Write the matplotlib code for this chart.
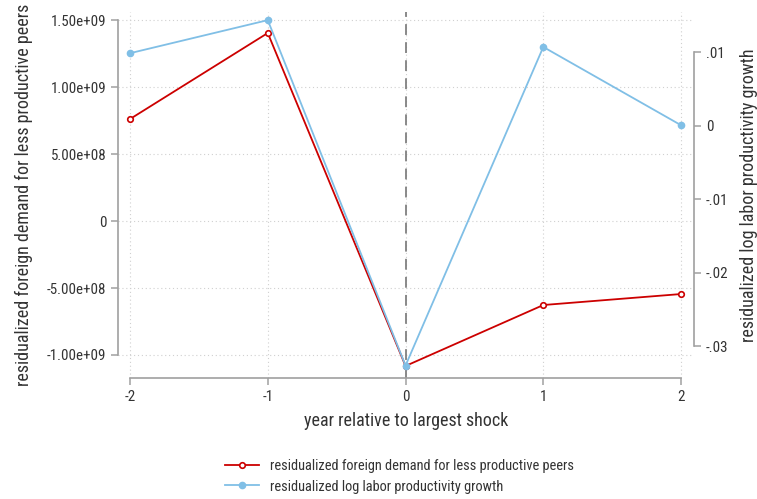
import matplotlib
matplotlib.use("Agg")
import matplotlib.pyplot as plt
from matplotlib import font_manager

names = {f.name for f in font_manager.fontManager.ttflist}
fam = [n for n in ["Liberation Sans Narrow", "Roboto Condensed", "DejaVu Sans"] if n in names]
plt.rcParams['font.family'] = fam

years = [-2, -1, 0, 1, 2]
foreign_demand = [7.61e8, 1.403e9, -1.082e9, -6.27e8, -5.45e8]
productivity = [0.0099, 0.0144, -0.0326, 0.01075, 0.0001]
left_ticks = [1.5e9, 1.0e9, 5.0e8, 0, -5.0e8, -1.0e9]
left_labels = ["1.50e+09", "1.00e+09", "5.00e+08", "0", "-5.00e+08", "-1.00e+09"]
right_ticks = [0.01, 0, -0.01, -0.02, -0.03]
right_labels = [".01", "0", "-.01", "-.02", "-.03"]

red = "#cc0000"
blue = "#80bfe6"
gray = "#a0a0a0"
tc = "#333333"

fig = plt.figure(figsize=(7.57, 4.99), dpi=100)
ax = fig.add_axes([0.1559, 0.2425, 0.7609, 0.7335])
ax2 = ax.twinx()

ax.set_xlim(-2.087, 2.094)
ax.set_ylim(-1.1716e9, 1.56e9)
ax2.set_ylim(-0.03429, 0.01551)

# grid
for v in left_ticks:
    ax.axhline(v, color="#d0d0d0", lw=0.8, ls=(0, (1, 2.5)), zorder=0)
for v in years:
    ax.axvline(v, color="#d0d0d0", lw=0.8, ls=(0, (1, 2.5)), zorder=0)
ax.axvline(0, color="#808080", lw=1.3, ls=(0, (6, 4)), zorder=1)

l1, = ax.plot(years, foreign_demand, color=red, lw=1.3, marker='o', ms=4,
              mfc='white', mec=red, mew=1.2, zorder=3,
              label="residualized foreign demand for less productive peers")
l2, = ax2.plot(years, productivity, color=blue, lw=1.3, marker='o', ms=4.5,
               mfc=blue, mec=blue, zorder=3,
               label="residualized log labor productivity growth")

for a in (ax, ax2):
    a.spines['top'].set_visible(False)
    for s in a.spines.values():
        s.set_color(gray)
        s.set_linewidth(1.2)
ax.spines['right'].set_visible(False)
ax2.spines['left'].set_visible(False)
ax2.spines['bottom'].set_visible(False)
ax.spines['left'].set_bounds(-1e9, 1.5e9)
ax.spines['bottom'].set_bounds(-2, 2)
ax2.spines['right'].set_bounds(-0.03, 0.01)

ax.set_xticks(years)
ax.set_xticklabels([str(y) for y in years])
ax.set_yticks(left_ticks)
ax.set_yticklabels(left_labels)
ax2.set_yticks(right_ticks)
ax2.set_yticklabels(right_labels)
for a in (ax, ax2):
    a.tick_params(colors=gray, labelcolor=tc, labelsize=10.8, length=5, width=1.1)

ax.set_xlabel("year relative to largest shock", fontsize=13, color=tc, labelpad=6)
ax.set_ylabel("residualized foreign demand for less productive peers", fontsize=13, color=tc, labelpad=10)
ax2.set_ylabel("residualized log labor productivity growth", fontsize=13, color=tc, labelpad=8)

fig.legend(handles=[l1, l2], loc='center', bbox_to_anchor=(0.528, 0.0455), frameon=False,
           fontsize=10.4, labelcolor=tc, handlelength=2.3, labelspacing=0.45)

fig.savefig("out.png", dpi=100)
